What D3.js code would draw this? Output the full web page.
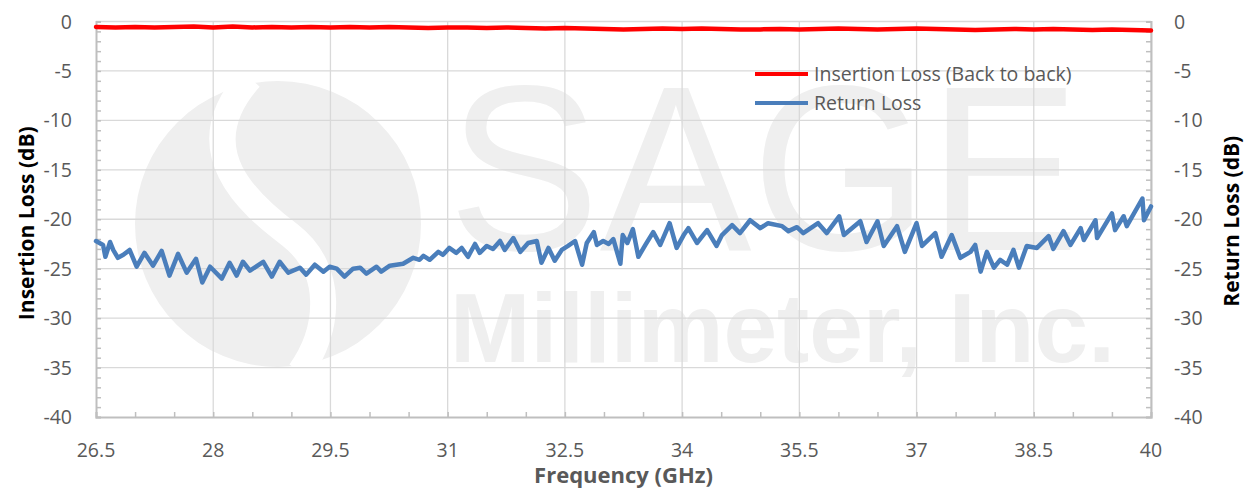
<!DOCTYPE html>
<html>
<head>
<meta charset="utf-8">
<script src="https://cdn.jsdelivr.net/npm/d3@7"></script>
<style>
  body { margin: 0; background: #fff; }
  svg text { font-family: "Open Sans", sans-serif; }
</style>
</head>
<body>
<div id="chart"></div>
<script>
// Frequency axis (GHz) and dB axis
const xTicks = [26.5, 28, 29.5, 31, 32.5, 34, 35.5, 37, 38.5, 40];
const yTicks = [0, -5, -10, -15, -20, -25, -30, -35, -40];

// Insertion loss (back to back)
const ilFreq = [26.5, 26.75, 27, 27.25, 27.5, 27.75, 28, 28.25, 28.5, 28.75, 29, 29.25, 29.5, 29.75,
  30, 30.25, 30.5, 30.75, 31, 31.25, 31.5, 31.75, 32, 32.25, 32.5, 32.75, 33, 33.25, 33.5, 33.75,
  34, 34.25, 34.5, 34.75, 35, 35.25, 35.5, 35.75, 36, 36.25, 36.5, 36.75, 37, 37.25, 37.5, 37.75,
  38, 38.25, 38.5, 38.75, 39, 39.25, 39.5, 39.75, 40];
const ilValues = [-0.55, -0.6, -0.55, -0.6, -0.55, -0.5, -0.6, -0.5, -0.6, -0.55, -0.6, -0.55, -0.6, -0.55,
  -0.6, -0.55, -0.6, -0.65, -0.6, -0.6, -0.65, -0.6, -0.65, -0.7, -0.65, -0.7, -0.75, -0.8, -0.75, -0.7,
  -0.75, -0.7, -0.75, -0.8, -0.8, -0.75, -0.8, -0.75, -0.7, -0.75, -0.8, -0.75, -0.7, -0.75, -0.8, -0.85,
  -0.8, -0.75, -0.8, -0.75, -0.8, -0.85, -0.8, -0.85, -0.9];

// Return loss
const rlFreq = [26.5, 26.59, 26.62, 26.68, 26.72, 26.78, 26.85, 26.93, 27.02, 27.12, 27.23, 27.34, 27.44,
  27.55, 27.66, 27.78, 27.86, 27.96, 28.11, 28.21, 28.3, 28.38, 28.47, 28.64, 28.75, 28.85, 28.96,
  29.11, 29.19, 29.3, 29.41, 29.49, 29.58, 29.68, 29.79, 29.88, 29.96, 30.09, 30.15, 30.26, 30.43,
  30.56, 30.64, 30.69, 30.77, 30.88, 30.94, 31.02, 31.11, 31.18, 31.26, 31.35, 31.41, 31.5, 31.58,
  31.67, 31.73, 31.84, 31.93, 32.03, 32.14, 32.2, 32.29, 32.37, 32.46, 32.54, 32.63, 32.72, 32.78,
  32.87, 32.91, 32.99, 33.06, 33.12, 33.21, 33.24, 33.3, 33.37, 33.44, 33.53, 33.63, 33.72, 33.84,
  33.93, 34.02, 34.08, 34.19, 34.32, 34.44, 34.51, 34.64, 34.74, 34.87, 35.0, 35.1, 35.28, 35.36,
  35.47, 35.55, 35.74, 35.85, 36.01, 36.07, 36.28, 36.36, 36.5, 36.58, 36.75, 36.85, 37.0, 37.07,
  37.24, 37.32, 37.45, 37.56, 37.69, 37.75, 37.82, 37.9, 37.99, 38.07, 38.16, 38.24, 38.31, 38.41,
  38.54, 38.69, 38.75, 38.88, 38.97, 39.1, 39.14, 39.29, 39.31, 39.5, 39.54, 39.65, 39.69, 39.89,
  39.91, 40.0];
const rlValues = [-22.2, -22.6, -23.8, -22.3, -23.1, -23.9, -23.6, -23.1, -24.8, -23.4, -24.7, -23.2, -25.7,
  -23.5, -25.4, -24.0, -26.4, -24.8, -26.0, -24.4, -25.7, -24.3, -25.2, -24.3, -25.8, -24.3,
  -25.4, -24.9, -25.6, -24.6, -25.3, -24.8, -25.0, -25.8, -25.0, -24.9, -25.5, -24.8, -25.3,
  -24.7, -24.5, -23.9, -24.1, -23.7, -24.1, -23.3, -23.6, -22.9, -23.4, -22.9, -23.8, -22.5,
  -23.4, -22.7, -23.0, -22.2, -23.1, -21.9, -23.3, -22.4, -22.2, -24.4, -22.9, -24.2, -23.1,
  -22.7, -22.2, -24.6, -22.4, -21.3, -22.6, -22.2, -22.5, -22.0, -24.5, -21.6, -22.4, -21.0,
  -23.8, -22.6, -21.3, -22.6, -20.4, -22.9, -21.6, -20.9, -22.4, -21.1, -22.7, -21.6, -20.6,
  -21.4, -20.1, -20.9, -20.4, -20.7, -21.2, -20.8, -21.4, -20.4, -21.4, -19.7, -21.6, -20.2,
  -22.3, -20.2, -22.7, -20.7, -23.3, -20.4, -22.7, -21.4, -23.8, -21.6, -23.9, -23.3, -22.6,
  -25.3, -23.3, -24.9, -24.1, -24.6, -23.1, -24.9, -22.7, -22.9, -21.7, -23.0, -21.2, -22.6,
  -20.9, -22.1, -20.1, -21.9, -19.4, -21.1, -19.7, -20.7, -17.9, -20.1, -18.7];

const seriesNames = ["Insertion Loss (Back to back)", "Return Loss"];
const seriesColors = ["#ff0000", "#4a7ebb"];

const width = 1248, height = 491;
const margin = { left: 96, right: 97, top: 21.5, bottom: 74 };

const svg = d3.select("#chart").append("svg")
  .attr("width", width)
  .attr("height", height);

const x = d3.scaleLinear().domain([26.5, 40]).range([margin.left, width - margin.right]);
const y = d3.scaleLinear().domain([-40, 0]).range([height - margin.bottom, margin.top]);

// Watermark (logo + company name), sits behind the grid
const wm = svg.append("g").attr("fill", "#efefef");
wm.append("circle").attr("cx", 278).attr("cy", 224).attr("r", 143);
wm.append("path")
  .attr("d", "M250,78 C185,150 250,205 290,235 C335,270 330,330 300,372")
  .attr("fill", "none").attr("stroke", "#fff").attr("stroke-width", 26);
wm.append("text")
  .attr("x", 448).attr("y", 250)
  .attr("textLength", 632).attr("lengthAdjust", "spacingAndGlyphs")
  .style("font-family", "'Liberation Sans', Arial, sans-serif")
  .style("font-size", "236px")
  .text("SAGE");
wm.append("text")
  .attr("x", 450).attr("y", 362)
  .attr("textLength", 665).attr("lengthAdjust", "spacingAndGlyphs")
  .style("font-family", "'Liberation Sans', Arial, sans-serif")
  .style("font-weight", "bold")
  .style("font-size", "98px")
  .text("Millimeter, Inc.");

// Gridlines
svg.append("g")
  .selectAll("line.gx").data(xTicks.slice(1)).join("line")
  .attr("x1", d => x(d)).attr("x2", d => x(d))
  .attr("y1", y(0)).attr("y2", y(-40))
  .attr("stroke", "#d9d9d9").attr("stroke-width", 1.3);
svg.append("g")
  .selectAll("line.gy").data(yTicks.slice(0, -1)).join("line")
  .attr("x1", x(26.5)).attr("x2", x(40))
  .attr("y1", d => y(d)).attr("y2", d => y(d))
  .attr("stroke", "#d9d9d9").attr("stroke-width", 1.3);

// Axes with inside minor ticks
const axisColor = "#bfbfbf";
const minorX = d3.range(26.5, 40.01, 0.5);
const minorY = d3.range(-40, 0.01, 1);

const xAxis = svg.append("g").attr("transform", `translate(0,${y(-40)})`)
  .call(d3.axisBottom(x).tickValues(minorX).tickSize(-5).tickFormat(""));
const yAxisL = svg.append("g").attr("transform", `translate(${x(26.5)},0)`)
  .call(d3.axisLeft(y).tickValues(minorY).tickSize(-5).tickFormat(""));
const yAxisR = svg.append("g").attr("transform", `translate(${x(40)},0)`)
  .call(d3.axisRight(y).tickValues(minorY).tickSize(-5).tickFormat(""));
[xAxis, yAxisL, yAxisR].forEach(g => {
  g.selectAll("path, line").attr("stroke", axisColor).attr("stroke-width", 1.5);
  g.select(".domain").attr("stroke-width", 2);
});

// Tick labels
const labelStyle = sel => sel.style("font-size", "19.5px").attr("fill", "#595959");
svg.append("g").selectAll("text").data(xTicks).join("text")
  .attr("x", d => x(d)).attr("y", y(-40) + 40)
  .attr("text-anchor", "middle")
  .call(labelStyle)
  .text(d => d);
svg.append("g").selectAll("text").data(yTicks).join("text")
  .attr("x", 72).attr("y", d => y(d) + 7)
  .attr("text-anchor", "end")
  .call(labelStyle)
  .text(d => d);
svg.append("g").selectAll("text").data(yTicks).join("text")
  .attr("x", 1174).attr("y", d => y(d) + 7)
  .attr("text-anchor", "start")
  .call(labelStyle)
  .text(d => d);

// Axis titles
svg.append("text")
  .attr("transform", `translate(34,${(y(0) + y(-40)) / 2 + 4}) rotate(-90)`)
  .attr("text-anchor", "middle")
  .style("font-size", "21px").style("font-weight", "bold")
  .attr("fill", "#000")
  .text("Insertion Loss (dB)");
svg.append("text")
  .attr("transform", `translate(1239,${(y(0) + y(-40)) / 2 + 2}) rotate(-90)`)
  .attr("text-anchor", "middle")
  .style("font-size", "21px").style("font-weight", "bold")
  .attr("fill", "#000")
  .text("Return Loss (dB)");
svg.append("text")
  .attr("x", (x(26.5) + x(40)) / 2).attr("y", 483)
  .attr("text-anchor", "middle")
  .style("font-size", "22px").style("font-weight", "bold")
  .attr("fill", "#595959")
  .text("Frequency (GHz)");

// Data lines
const line = d3.line().x(d => x(d[0])).y(d => y(d[1]));
const ilData = d3.zip(ilFreq, ilValues);
const rlData = d3.zip(rlFreq, rlValues);

svg.append("path").datum(rlData)
  .attr("d", line).attr("fill", "none")
  .attr("stroke", seriesColors[1]).attr("stroke-width", 4.5)
  .attr("stroke-linejoin", "round").attr("stroke-linecap", "round");
svg.append("path").datum(ilData)
  .attr("d", line).attr("fill", "none")
  .attr("stroke", seriesColors[0]).attr("stroke-width", 4.5)
  .attr("stroke-linejoin", "round").attr("stroke-linecap", "round");

// Legend
const legend = svg.append("g").selectAll("g").data(seriesNames).join("g")
  .attr("transform", (d, i) => `translate(755,${74 + i * 29})`);
legend.append("line")
  .attr("x1", 0).attr("x2", 53)
  .attr("stroke", (d, i) => seriesColors[i]).attr("stroke-width", 4);
legend.append("text")
  .attr("x", 59).attr("y", 7)
  .call(labelStyle)
  .text(d => d);
</script>
</body>
</html>
